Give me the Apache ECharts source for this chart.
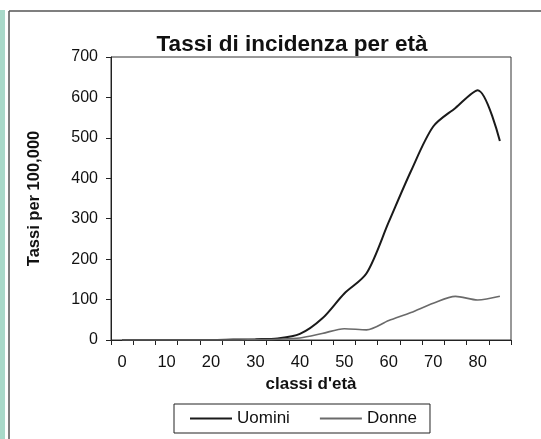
<!DOCTYPE html>
<html>
<head>
<meta charset="utf-8">
<script src="https://cdn.jsdelivr.net/npm/echarts@6/dist/echarts.min.js"></script>
<style>
  html, body { margin: 0; padding: 0; background: #fff; }
  #chart { width: 541px; height: 439px; }
</style>
</head>
<body>
<div id="chart"></div>
<script>
// classi d'età (5 anni)
const ageClasses = ['0', '5', '10', '15', '20', '25', '30', '35', '40', '45', '50', '55', '60', '65', '70', '75', '80', '85']
// tassi per 100.000
const uomini = [0, 0, 0, 0, 0, 1, 2, 4, 15, 53, 115, 165, 292, 418, 528, 574, 618, 492]
const donne = [0, 0, 0, 0, 0, 0, 1, 2, 5, 16, 28, 25, 48, 68, 91, 108, 99, 108]

const font = 'Liberation Sans'

const chart = echarts.init(document.getElementById('chart'))

chart.setOption({
  animation: false,
  backgroundColor: '#fff',
  title: {
    text: 'Tassi di incidenza per età',
    left: 287,
    top: 28,
    textAlign: 'center',
    textStyle: { fontFamily: font, fontSize: 22.5, fontWeight: 'bold', color: '#111' },
  },
  // cornice esterna
  graphic: [
    { type: 'rect', shape: { x: 0, y: 10, width: 5, height: 429 }, style: { fill: '#a9d9c9' } },
    { type: 'line', shape: { x1: 9, y1: 11, x2: 541, y2: 11 }, style: { stroke: '#555', lineWidth: 1.5 } },
    { type: 'line', shape: { x1: 9, y1: 11, x2: 9, y2: 439 }, style: { stroke: '#555', lineWidth: 1.5 } },
  ],
  legend: {
    left: 174,
    top: 404,
    icon: 'rect',
    itemWidth: 42,
    itemHeight: 2,
    itemGap: 30,
    padding: [6, 13, 6, 16],
    borderColor: '#222',
    borderWidth: 1,
    textStyle: { fontFamily: font, fontSize: 17, color: '#111' },
    data: ['Uomini', 'Donne'],
  },
  grid: {
    left: 111,
    right: 30,
    top: 57,
    bottom: 99,
    show: true,
    borderColor: '#333',
    borderWidth: 1,
  },
  xAxis: {
    type: 'category',
    data: ageClasses,
    boundaryGap: true,
    name: "classi d'età",
    nameLocation: 'middle',
    nameGap: 33,
    nameTextStyle: { fontFamily: font, fontSize: 17, fontWeight: 'bold', color: '#111' },
    axisLine: { lineStyle: { color: '#222', width: 1 } },
    axisTick: { show: true, interval: 0, length: 5, lineStyle: { color: '#222' } },
    axisLabel: { interval: 1, margin: 14, fontFamily: font, fontSize: 16.5, color: '#111' },
    splitLine: { show: false },
  },
  yAxis: {
    type: 'value',
    min: 0,
    max: 700,
    interval: 100,
    name: 'Tassi per 100,000',
    nameLocation: 'middle',
    nameGap: 68,
    nameTextStyle: { fontFamily: font, fontSize: 16.5, fontWeight: 'bold', color: '#111' },
    axisLine: { show: true, lineStyle: { color: '#222', width: 1 } },
    axisTick: { show: true, length: 5, lineStyle: { color: '#222' } },
    axisLabel: { margin: 13, fontFamily: font, fontSize: 16, color: '#111' },
    splitLine: { show: false },
  },
  series: [
    {
      name: 'Uomini',
      type: 'line',
      data: uomini,
      smooth: 0.3,
      symbol: 'none',
      itemStyle: { color: '#1a1a1a' },
      lineStyle: { color: '#1a1a1a', width: 2 },
    },
    {
      name: 'Donne',
      type: 'line',
      data: donne,
      smooth: 0.3,
      symbol: 'none',
      itemStyle: { color: '#6a6a6a' },
      lineStyle: { color: '#6a6a6a', width: 1.6 },
    },
  ],
})
</script>
</body>
</html>
